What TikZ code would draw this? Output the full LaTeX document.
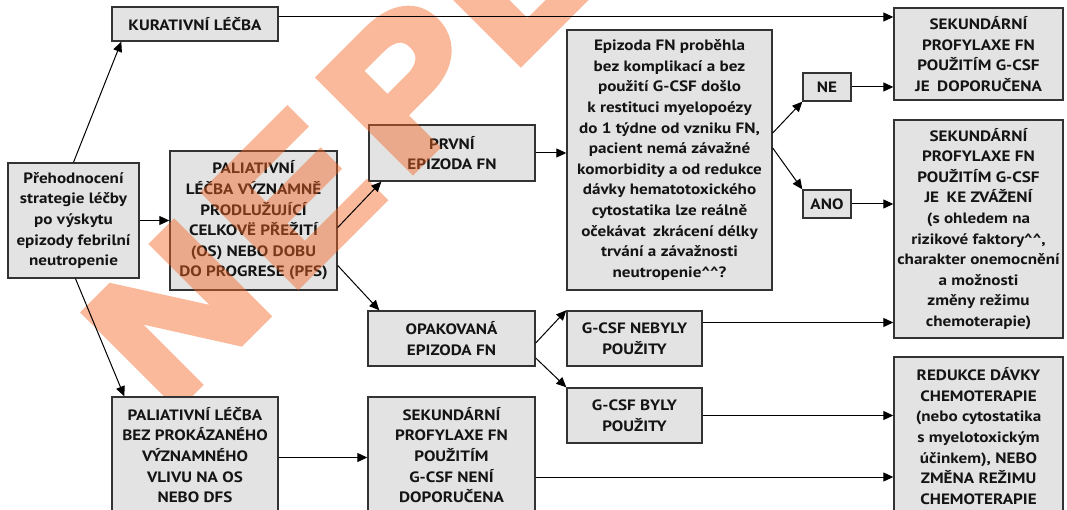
\documentclass[tikz,border=0pt]{standalone}
\usepackage{fontspec}
\setmainfont[FakeStretch=1.14]{PT Sans}
\newfontfamily\stampfont[FakeBold=5,FakeStretch=1.12]{Liberation Sans Bold}
\usetikzlibrary{arrows.meta}
\definecolor{boxfill}{HTML}{E2E3E2}
\definecolor{boxline}{HTML}{333333}
\definecolor{inktext}{HTML}{141414}
\definecolor{stamporange}{HTML}{F46421}
\newcommand\bxfont{\fontsize{15}{20.6}\selectfont\bfseries}
\newcommand\cc{\textasciicircum\textasciicircum}
\tikzset{
  box/.style={draw=boxline, fill=boxfill, line width=1.4pt, align=center,
    inner sep=0pt, font=\bxfont, text=inktext},
  arr/.style={-{Triangle[length=10pt,width=9pt]}, line width=1pt, draw=black},
  stamp/.style={font=\stampfont\fontsize{188}{188}\selectfont, text=stamporange,
    inner sep=0pt}
}
\begin{document}
\begin{tikzpicture}[x=1pt,y=-1pt]
\useasboundingbox (0,0) rectangle (1067,510);
\clip (0,0) rectangle (1067,510);
\fill[white] (0,0) rectangle (1067,510);

% first column
\node[box, minimum width=131pt, minimum height=115pt] (preh) at (73.5,220.5)
  {Přehodnocení\\strategie léčby\\po výskytu\\epizody febrilní\\neutropenie};

% treatment intent
\node[box, minimum width=166pt, minimum height=34pt] (kur) at (195,24) {KURATIVNÍ LÉČBA};
\node[box, minimum width=167pt, minimum height=139pt] (pal) at (253.5,220.5)
  {PALIATIVNÍ\\LÉČBA VÝZNAMNĚ\\PRODLUŽUJÍCÍ\\CELKOVË PŘEŽITÍ\\(OS) NEBO DOBU\\DO PROGRESE (PFS)};

% episode type
\node[box, minimum width=166pt, minimum height=56pt] (prvni) at (452,153) {PRVNÍ\\EPIZODA FN};
\node[box, minimum width=167pt, minimum height=55pt] (opak) at (451.5,338.5) {OPAKOVANÁ\\EPIZODA FN};

% question and G-CSF history
\node[box, minimum width=205pt, minimum height=260pt] (otaz) at (669.5,160)
  {Epizoda FN proběhla\\bez komplikací a bez\\použití G-CSF došlo\\k restituci myelopoézy\\do 1 týdne od vzniku FN,\\pacient nemá závažné\\komorbidity a od redukce\\dávky hematotoxického\\cytostatika lze reálně\\očekávat\enspace zkrácení délky\\trvání a závažnosti\\neutropenie\cc?};
\node[box, minimum width=135pt, minimum height=55pt] (nebyly) at (634.5,338.5) {G-CSF NEBYLY\\POUŽITY};
\node[box, minimum width=135pt, minimum height=55pt] (byly) at (634.5,415.5) {G-CSF BYLY\\POUŽITY};

% answers
\node[box, minimum width=48pt, minimum height=28pt] (ne) at (827,87) {NE};
\node[box, minimum width=48pt, minimum height=28pt] (ano) at (827,204) {ANO};

% recommendations
\node[box, minimum width=169pt, minimum height=92pt] (sekdop) at (978.5,54)
  {SEKUNDÁRNÍ\\PROFYLAXE FN\\POUŽITÍM G-CSF\\JE\enspace DOPORUČENA};
\node[box, minimum width=169pt, minimum height=218pt] (sekzv) at (978.5,229)
  {SEKUNDÁRNÍ\\PROFYLAXE FN\\POUŽITÍM G-CSF\\JE\enspace KE ZVÁŽENÍ\\(s ohledem na\\rizikové faktory\cc,\\charakter onemocnění\\a možnosti\\změny režimu\\chemoterapie)};
\node[box, minimum width=169pt, minimum height=158pt] (reduk) at (978.5,436)
  {REDUKCE DÁVKY\\CHEMOTERAPIE\\(nebo cytostatika\\s myelotoxickým\\účinkem), NEBO\\ZMĚNA REŽIMU\\CHEMOTERAPIE};

% diagonal stamp, laid over the upper boxes
\begin{scope}[transparency group, opacity=0.45]
\node[stamp, rotate=45, anchor=base west] (razitko) at (168,414)
  {N\kern18pt E\kern22pt P\kern12pt L\kern10pt A\kern10pt TNÉ};
\end{scope}

% lower row sits above the stamp
\node[box, minimum width=166pt, minimum height=116pt] (palbez) at (195,455)
  {PALIATIVNÍ LÉČBA\\BEZ PROKÁZANÉHO\\VÝZNAMNÉHO\\VLIVU NA OS\\NEBO DFS};
\node[box, minimum width=167pt, minimum height=116pt] (seknen) at (451.5,455)
  {SEKUNDÁRNÍ\\PROFYLAXE FN\\POUŽITÍM\\G-CSF NENÍ\\DOPORUČENA};

% connectors
\draw[arr] (preh.north) -- ([xshift=10pt]kur.south west);
\draw[arr] (preh.east) -- (pal.west);
\draw[arr] ([xshift=2pt]preh.south) -- ([xshift=13pt]palbez.north west);
\draw[arr] ([yshift=7pt]kur.east) -- ([yshift=7pt]kur.east -| sekdop.west);
\draw[arr] ([yshift=-7pt]pal.east) -- ([xshift=13pt]prvni.south west);
\draw[arr] ([yshift=-45pt]pal.east) -- ([xshift=12pt]opak.north west);
\draw[arr] (prvni.east) -- (prvni.east -| otaz.west);
\draw[arr] ([yshift=27pt]otaz.east) -- (ne.south west);
\draw[arr] ([yshift=12pt]otaz.east) -- (ano.north west);
\draw[arr] (ne.east) -- (ne.east -| sekdop.west);
\draw[arr] (ano.east) -- (ano.east -| sekzv.west);
\draw[arr] ([yshift=-4.5pt]opak.east) -- (nebyly.north west);
\draw[arr] ([yshift=-19.5pt]opak.east) -- (byly.north west);
\draw[arr] ([yshift=16pt]nebyly.east) -- ([yshift=16pt]nebyly.east -| sekzv.west);
\draw[arr] (byly.east) -- (byly.east -| reduk.west);
\draw[arr] ([yshift=-2.5pt]palbez.east) -- ([yshift=-2.5pt]palbez.east -| seknen.west);
\draw[arr] ([yshift=-22pt]seknen.east) -- ([yshift=-22pt]seknen.east -| reduk.west);
\end{tikzpicture}
\end{document}
